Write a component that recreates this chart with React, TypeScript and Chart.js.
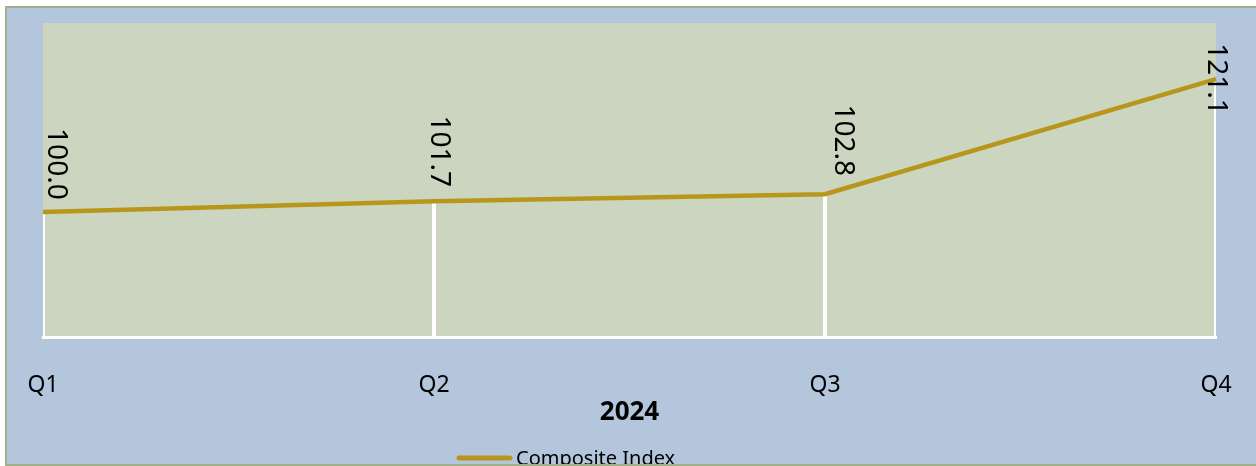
import { useEffect, useRef } from "react";
import { Chart, registerables } from "chart.js";

Chart.register(...registerables);

// ---- data ----
const categories = ["Q1", "Q2", "Q3", "Q4"];
const compositeIndex = [100.0, 101.7, 102.8, 121.1];
const seriesLabel = "Composite Index";
const axisTitle = "2024";
const yMin = 80;
const yMax = 130;

// ---- style config ----
const FONT = "'Noto Sans', 'DejaVu Sans', sans-serif";
const LINE_COLOR = "#B8961C";
const PLOT_BG = "#CCD5BF";
const OUTER_BG = "#B3C6DC";
const BORDER_COLOR = "#A0B088";
// label center offsets (dx, dy) from each point, in px
const labelShift: [number, number][] = [
  [13, -48],
  [5, -50],
  [18, -54],
  [0, 0],
];
const LEGEND_X = 450;
const LEGEND_Y = 450;
const LEGEND_LINE = 55;

const CANVAS_W = 1249;
const CANVAS_H = 456;

export default function App() {
  const ref = useRef<HTMLCanvasElement>(null);

  useEffect(() => {
    if (!ref.current) return;

    const plotBg = {
      id: "plotBg",
      beforeDraw(chart: any) {
        const { ctx, chartArea: a } = chart;
        ctx.save();
        ctx.fillStyle = PLOT_BG;
        ctx.fillRect(a.left, a.top, a.right - a.left, a.bottom - a.top);
        ctx.restore();
      },
    };

    const dropLines = {
      id: "dropLines",
      beforeDatasetsDraw(chart: any) {
        const { ctx, chartArea: a } = chart;
        const meta = chart.getDatasetMeta(0);
        ctx.save();
        ctx.beginPath();
        ctx.rect(a.left, a.top, a.right - a.left, a.bottom - a.top);
        ctx.clip();
        ctx.strokeStyle = "#FFFFFF";
        ctx.lineWidth = 4;
        meta.data.forEach((p: any) => {
          ctx.beginPath();
          ctx.moveTo(p.x, p.y);
          ctx.lineTo(p.x, a.bottom);
          ctx.stroke();
        });
        ctx.restore();
      },
    };

    const valueLabels = {
      id: "valueLabels",
      afterDatasetsDraw(chart: any) {
        const { ctx } = chart;
        const meta = chart.getDatasetMeta(0);
        const values = chart.data.datasets[0].data as number[];
        ctx.save();
        ctx.fillStyle = "#000000";
        ctx.font = `28px ${FONT}`;
        ctx.textAlign = "center";
        ctx.textBaseline = "middle";
        meta.data.forEach((p: any, i: number) => {
          const [dx, dy] = labelShift[i] || [0, -50];
          ctx.save();
          ctx.translate(p.x + dx, p.y + dy);
          ctx.rotate(Math.PI / 2);
          ctx.fillText(values[i].toFixed(1), 0, 0);
          ctx.restore();
        });
        ctx.restore();
      },
    };

    const legendLine = {
      id: "legendLine",
      afterDraw(chart: any) {
        const { ctx } = chart;
        const ds = chart.data.datasets[0];
        ctx.save();
        ctx.strokeStyle = ds.borderColor;
        ctx.lineWidth = 5;
        ctx.lineCap = "round";
        ctx.beginPath();
        ctx.moveTo(LEGEND_X + 2, LEGEND_Y);
        ctx.lineTo(LEGEND_X + LEGEND_LINE - 2, LEGEND_Y);
        ctx.stroke();
        ctx.fillStyle = "#000000";
        ctx.font = `20px ${FONT}`;
        ctx.textAlign = "left";
        ctx.textBaseline = "middle";
        ctx.fillText(ds.label, LEGEND_X + LEGEND_LINE + 4, LEGEND_Y + 1);
        ctx.restore();
      },
    };

    const chart = new Chart(ref.current, {
      type: "line",
      data: {
        labels: categories,
        datasets: [
          {
            label: seriesLabel,
            data: compositeIndex,
            borderColor: LINE_COLOR,
            backgroundColor: LINE_COLOR,
            borderWidth: 4.5,
            pointRadius: 0,
            pointHoverRadius: 0,
            tension: 0,
            fill: false,
          },
        ],
      },
      options: {
        responsive: false,
        animation: false,
        events: [],
        layout: {
          padding: { left: 36, top: 15, right: 40, bottom: 38.6 },
        },
        plugins: {
          legend: { display: false },
          tooltip: { enabled: false },
          title: { display: false },
        },
        scales: {
          x: {
            offset: false,
            grid: {
              display: true,
              drawOnChartArea: false,
              drawTicks: true,
              tickLength: 34,
              color: "rgba(0,0,0,0)",
            },
            border: { display: true, color: "#FFFFFF", width: 3 },
            ticks: {
              color: "#000000",
              font: { family: FONT, size: 23 },
              padding: 0,
              maxRotation: 0,
              autoSkip: false,
            },
            title: {
              display: true,
              text: axisTitle,
              color: "#000000",
              font: { family: FONT, size: 26, weight: "bold", lineHeight: 1.0 },
              padding: { top: 0, bottom: 0 },
            },
          },
          y: {
            display: false,
            min: yMin,
            max: yMax,
          },
        },
      },
      plugins: [plotBg, dropLines, valueLabels, legendLine],
    });

    return () => chart.destroy();
  }, []);

  return (
    <div
      style={{
        position: "fixed",
        left: 5,
        top: 6,
        width: 1300,
        height: CANVAS_H,
        border: `2px solid ${BORDER_COLOR}`,
        background: OUTER_BG,
        overflow: "hidden",
      }}
    >
      <canvas
        ref={ref}
        width={CANVAS_W}
        height={CANVAS_H}
        style={{ display: "block", width: CANVAS_W, height: CANVAS_H }}
      />
    </div>
  );
}
